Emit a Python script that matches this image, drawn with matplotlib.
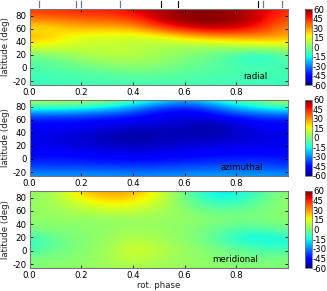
import numpy as np
import matplotlib
matplotlib.use('Agg')
import matplotlib.pyplot as plt

W, H = 327.0, 291.0

# rows run from lat 90 down to lat -26, columns are phase 0.0 ... 1.0
radial = [
    [42, 44, 46, 47, 50, 56, 58, 58, 56, 50, 44],
    [35, 36, 38, 38, 43, 54, 60, 60, 58, 50, 38],
    [18, 20, 26, 26, 27, 40, 50, 55, 52, 44, 30],
    [28, 22, 13, 12, 11, 12, 20, 25, 28, 30, 27],
    [14, 13, 11, 11, 10, 7, 5, 4, 6, 7, 9],
    [-4, 0, 5, 8, 8, 5, 1, -3, -10, -16, -5],
    [-7, -5, -2, 1, 3, 1, -2, -5, -7, -8, -7],
    [-9, -8, -7, -6, -5, -5, -6, -7, -7, -8, -9],
    [-10, -10, -9, -9, -8, -8, -8, -9, -9, -10, -10],
]
azimuthal = [
    [13, 13, 12, 8, -2, -10, -22, -10, -3, 5, 13],
    [-15, -15, -17, -22, -30, -42, -45, -38, -25, -18, -15],
    [-42, -42, -43, -44, -46, -48, -50, -50, -46, -42, -42],
    [-47, -47, -48, -50, -52, -53, -54, -58, -52, -48, -47],
    [-49, -50, -52, -55, -58, -55, -54, -54, -52, -50, -49],
    [-48, -49, -50, -51, -52, -51, -50, -49, -48, -48, -48],
    [-44, -44, -45, -46, -47, -46, -45, -44, -43, -43, -44],
    [-38, -38, -38, -38, -39, -38, -37, -36, -36, -36, -38],
    [-26, -26, -26, -26, -27, -27, -26, -25, -25, -25, -26],
]
meridional = [
    [3, 6, 25, 30, 28, 15, -3, -18, -18, -6, 3],
    [4, 6, 15, 22, 20, 12, -2, -12, -12, -3, 4],
    [3, 5, 8, 11, 11, 7, 3, -3, -3, 0, 3],
    [3, 3, 3, 3, 4, 4, 3, 2, 0, 0, 3],
    [0, 1, 2, 3, 5, 4, 2, -2, -7, -7, -1],
    [-12, -3, 1, 4, 9, 6, 2, -3, -15, -18, -15],
    [-10, -3, 1, 5, 14, 9, 4, 0, -3, -8, -9],
    [0, 1, 2, 6, 11, 7, 4, 2, 0, -1, 0],
    [1, 2, 3, 5, 6, 5, 4, 3, 2, 1, 1],
]
names = ['radial', 'azimuthal', 'meridional']
panels = [radial, azimuthal, meridional]
name_x = [0.872, 0.82, 0.794]
lat_ticks = [-20, 0, 20, 40, 60, 80]
phase_ticks = [0.0, 0.2, 0.4, 0.6, 0.8]
cbar_ticks = [-60, -45, -30, -15, 0, 15, 30, 45, 60]
obs_grey = [0.035, 0.18, 0.2, 0.35, 0.905, 0.975]
obs_black = [0.51, 0.575, 0.885]
tops = [9, 100, 191]
bots = [85, 176, 268]

plt.rcParams['font.size'] = 6.2
plt.rcParams['axes.unicode_minus'] = False
fig = plt.figure(figsize=(W / 100, H / 100), dpi=100)

for i in range(3):
    ax = fig.add_axes([29.5 / W, 1 - bots[i] / H, 258.5 / W, (bots[i] - tops[i]) / H])
    # half a cell past the limits, so the first and last values sit on the frame
    im = ax.imshow(np.array(panels[i]), cmap='jet', vmin=-60, vmax=60, aspect='auto',
                   extent=[-0.05, 1.05, -33.25, 97.25], interpolation='bicubic')
    ax.set_xlim(0, 1)
    ax.set_ylim(-26, 90)
    ax.set_xticks(phase_ticks)
    ax.set_yticks(lat_ticks)
    ax.set_xticklabels(['%.1f' % p for p in phase_ticks])
    ax.tick_params(direction='in', top=True, right=True, length=2.5, width=0.6, pad=2)
    for s in ax.spines.values():
        s.set_color('#777777')
        s.set_linewidth(0.8)
    ax.set_ylabel('latitude (deg)', color='#222222')
    ax.yaxis.set_label_coords(-0.075, 0.5)
    ax.text(name_x[i], -13, names[i], ha='center', va='center', fontsize=6.2)
    if i == 0:
        for p in obs_grey:
            ax.plot([p, p], [1.02, 1.105], color='#777777', lw=0.9,
                    transform=ax.get_xaxis_transform(), clip_on=False)
        for p in obs_black:
            ax.plot([p, p], [1.02, 1.105], color='black', lw=0.8,
                    transform=ax.get_xaxis_transform(), clip_on=False)
    if i == 2:
        ax.set_xlabel('rot. phase', labelpad=1, color='#222222')

    cax = fig.add_axes([305 / W, 1 - bots[i] / H, 6.5 / W, (bots[i] - tops[i]) / H])
    cb = fig.colorbar(im, cax=cax, ticks=cbar_ticks)
    cb.ax.tick_params(length=0, pad=1)
    cb.outline.set_edgecolor('#777777')
    cb.outline.set_linewidth(0.6)

fig.savefig('out.png', dpi=100)
